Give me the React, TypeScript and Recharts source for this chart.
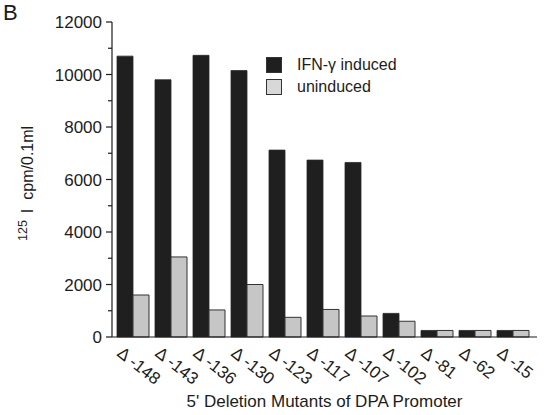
import React from 'react'
import { BarChart, Bar, XAxis, YAxis, Label } from 'recharts'

// Promoter deletion mutants (x categories)
const mutants = ['Δ -148', 'Δ -143', 'Δ -136', 'Δ -130', 'Δ -123', 'Δ -117', 'Δ -107', 'Δ -102', 'Δ -81', 'Δ -62', 'Δ -15']

// 125I cpm/0.1ml readings
const induced = [10700, 9800, 10730, 10150, 7120, 6740, 6650, 900, 250, 250, 250]
const uninduced = [1600, 3050, 1030, 2000, 750, 1050, 800, 600, 250, 250, 250]

const yTicks = [0, 1000, 2000, 3000, 4000, 5000, 6000, 7000, 8000, 9000, 10000, 11000, 12000]

const seriesNames = ['IFN-γ induced', 'uninduced']

const FONT = '"Liberation Sans", Arial, Helvetica, sans-serif'
const INK = '#1c1c1c'
const DARK = '#1f1f1f'
const GREY = '#c6c6c6'

const data = mutants.map((name, i) => ({
  name,
  induced: induced[i],
  uninduced: uninduced[i]
}))

function YTick(props: any) {
  const { x, y, payload } = props
  const major = payload.value % 2000 === 0
  return (
    <g>
      <line x1={x - (major ? 6 : 4)} x2={x} y1={y} y2={y} stroke={INK} strokeWidth={1.2} />
      {major && (
        <text x={x - 10} y={y} dy="0.36em" textAnchor="end" fontSize={17} fill={INK} fontFamily={FONT}>
          {payload.value}
        </text>
      )}
    </g>
  )
}

function XTick(props: any) {
  const { x, y, payload } = props
  return (
    <g transform={`translate(${x - 17},${y + 18}) rotate(38)`}>
      <text x={0} y={0} textAnchor="start" fontSize={17} fill={INK} fontFamily={FONT}>
        {payload.value}
      </text>
    </g>
  )
}

function LegendBox() {
  const fills = [DARK, '#d8d8d8']
  return (
    <div style={{ position: 'absolute', left: 266, top: 54, fontFamily: FONT, fontSize: 16, color: INK }}>
      {seriesNames.map((n, i) => (
        <div key={n} style={{ display: 'flex', alignItems: 'center', height: 22 }}>
          <span
            style={{
              display: 'inline-block',
              width: 14,
              height: 14,
              background: fills[i],
              border: '1px solid #333',
              marginRight: 15
            }}
          />
          <span>{n}</span>
        </div>
      ))}
    </div>
  )
}

function YTitle() {
  return (
    <text transform="translate(33,241) rotate(-90)" textAnchor="start" fill={INK} fontFamily={FONT}>
      <tspan fontSize={12.5} dy={-6}>125</tspan>
      <tspan fontSize={16} dy={6} dx={7}>I</tspan>
      <tspan fontSize={16} dx={9}>cpm/0.1ml</tspan>
    </text>
  )
}

export default function App() {
  return (
    <div style={{ position: 'absolute', left: 0, top: 0, width: 546, height: 415, background: '#fff', overflow: 'hidden' }}>
      <div style={{ position: 'absolute', left: 3, top: 2, fontFamily: FONT, fontSize: 22, lineHeight: '22px', color: INK }}>B</div>
      <BarChart
        width={546}
        height={415}
        data={data}
        margin={{ top: 22, right: 9, left: 0, bottom: 0 }}
        barGap={0}
        barSize={16}
      >
        <XAxis
          dataKey="name"
          interval={0}
          height={78}
          tickLine={false}
          tickSize={0}
          tickMargin={0}
          axisLine={{ stroke: INK, strokeWidth: 1.2 }}
          padding={{ left: 2, right: 5 }}
          tick={<XTick />}
        >
          <Label
            value="5' Deletion Mutants of DPA  Promoter"
            position="insideBottom"
            offset={8}
            style={{ fontSize: 17, fill: INK, fontFamily: FONT }}
            dx={0}
          />
        </XAxis>
        <YAxis
          width={112}
          domain={[0, 12000]}
          ticks={yTicks}
          interval={0}
          tickLine={false}
          tickSize={0}
          tickMargin={0}
          axisLine={{ stroke: INK, strokeWidth: 1.2 }}
          tick={<YTick />}
        >
          <Label content={<YTitle />} />
        </YAxis>
        <Bar dataKey="induced" name={seriesNames[0]} fill={DARK} stroke="#2a2a2a" strokeWidth={0.8} isAnimationActive={false} />
        <Bar dataKey="uninduced" name={seriesNames[1]} fill={GREY} stroke="#333" strokeWidth={1} isAnimationActive={false} />
      </BarChart>
      <LegendBox />
    </div>
  )
}
